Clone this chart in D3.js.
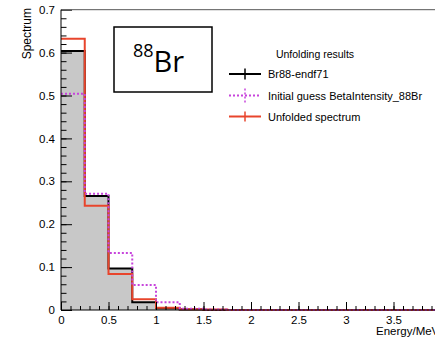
<!DOCTYPE html>
<html>
<head>
<meta charset="utf-8">
<script src="https://cdn.jsdelivr.net/npm/d3@7"></script>
<style>
  body { margin: 0; background: #fff; }
  text { font-family: "Liberation Sans", Arial, sans-serif; }
</style>
</head>
<body>
<script>
// bin low edges (MeV), bin width 0.25
let binEdges = [0, 0.25, 0.5, 0.75, 1, 1.25, 1.5, 1.75, 2, 2.25, 2.5, 2.75, 3, 3.25, 3.5, 3.75];
let binUpper = 4;

let endf71 = [0.604, 0.266, 0.097, 0.018, 0.004, 0.001, 0, 0, 0, 0, 0, 0, 0, 0, 0, 0];
let initialGuess = [0.504, 0.271, 0.133, 0.058, 0.018, 0.003, 0.001, 0, 0, 0, 0, 0, 0, 0, 0, 0];
let unfolded = [0.632, 0.243, 0.084, 0.025, 0.005, 0.002, 0.001, 0, 0, 0, 0, 0, 0, 0, 0, 0];

// the "4" label sits past the right edge of the picture, so it is not listed
let xTicks = [0, 0.5, 1, 1.5, 2, 2.5, 3, 3.5];
let xTickLabels = ["0", "0.5", "1", "1.5", "2", "2.5", "3", "3.5"];
let yTicks = [0, 0.1, 0.2, 0.3, 0.4, 0.5, 0.6, 0.7];
let yTickLabels = ["0", "0.1", "0.2", "0.3", "0.4", "0.5", "0.6", "0.7"];

let legendTitle = "Unfolding results";
let legendLabels = ["Br88-endf71", "Initial guess BetaIntensity_88Br", "Unfolded spectrum"];

let width = 435, height = 339;
let bounds = { left: 61, right: 441, top: 9.7, bottom: 310 };

let svg = d3.select('body').append('svg')
  .attr('width', width)
  .attr('height', height);

let x = d3.scaleLinear().domain([0, 4]).range([bounds.left, bounds.right]);
let y = d3.scaleLinear().domain([0, 0.7]).range([bounds.bottom, bounds.top]);

let toPoints = function(vals) {
  let pts = binEdges.map((e, i) => [e, vals[i]]);
  pts.push([binUpper, vals[vals.length - 1]]);
  return pts;
};

let stepLine = d3.line()
  .x(d => x(d[0]))
  .y(d => y(d[1]))
  .curve(d3.curveStepAfter);

let stepArea = d3.area()
  .x(d => x(d[0]))
  .y0(y(0))
  .y1(d => y(d[1]))
  .curve(d3.curveStepAfter);

// gray filled reference histogram
svg.append('path')
  .datum(toPoints(endf71))
  .attr('d', stepArea)
  .attr('fill', '#c8c8c8');

svg.append('path')
  .datum(toPoints(endf71))
  .attr('d', stepLine)
  .attr('fill', 'none')
  .attr('stroke', '#000')
  .attr('stroke-width', 2);

svg.append('path')
  .datum(toPoints(unfolded))
  .attr('d', stepLine)
  .attr('fill', 'none')
  .attr('stroke', '#e8452c')
  .attr('stroke-width', 2);

svg.append('path')
  .datum(toPoints(initialGuess))
  .attr('d', stepLine)
  .attr('fill', 'none')
  .attr('stroke', '#c744dc')
  .attr('stroke-width', 2)
  .attr('stroke-dasharray', '2,2');

// axes
let yAxis = d3.axisLeft(y)
  .tickValues(yTicks)
  .tickFormat((d, i) => yTickLabels[i])
  .tickSize(-11)
  .tickPadding(6);
let yMinor = d3.axisLeft(y)
  .tickValues(d3.range(0, 36).map(i => i * 0.02).filter(v => v <= 0.7))
  .tickFormat('')
  .tickSize(-5.5);

let xAxis = d3.axisBottom(x)
  .tickValues(xTicks)
  .tickFormat((d, i) => xTickLabels[i])
  .tickSize(-8)
  .tickPadding(5.5);
let xMinor = d3.axisBottom(x)
  .tickValues(d3.range(0, 41).map(i => i * 0.1))
  .tickFormat('')
  .tickSize(-4);

[yMinor, yAxis].forEach(ax => {
  svg.append('g')
    .attr('class', 'axis')
    .attr('transform', 'translate(' + bounds.left + ',0)')
    .call(ax);
});
[xMinor, xAxis].forEach(ax => {
  svg.append('g')
    .attr('class', 'axis')
    .attr('transform', 'translate(0,' + bounds.bottom + ')')
    .call(ax);
});
svg.selectAll('.axis .domain').remove();
svg.selectAll('.axis text')
  .attr('font-size', 11.5)
  .attr('fill', '#000')
  .style('font-family', '"Liberation Sans", Arial, sans-serif');

// frame
svg.append('line')
  .attr('x1', bounds.left).attr('x2', bounds.right)
  .attr('y1', bounds.top).attr('y2', bounds.top)
  .attr('stroke', '#555').attr('stroke-width', 1);
svg.append('line')
  .attr('x1', bounds.left).attr('x2', bounds.left)
  .attr('y1', bounds.top).attr('y2', bounds.bottom)
  .attr('stroke', '#000').attr('stroke-width', 1);
svg.append('line')
  .attr('x1', bounds.left).attr('x2', bounds.right)
  .attr('y1', bounds.bottom).attr('y2', bounds.bottom)
  .attr('stroke', '#000').attr('stroke-width', 1);

// axis titles
svg.append('text')
  .attr('transform', 'translate(31,8) rotate(-90)')
  .attr('text-anchor', 'end')
  .attr('font-size', 12)
  .text('Spectrum');

svg.append('text')
  .attr('x', 376)
  .attr('y', 335)
  .attr('font-size', 11.5)
  .text('Energy/MeV');

// isotope box
svg.append('rect')
  .attr('x', 114).attr('y', 27)
  .attr('width', 98).attr('height', 65)
  .attr('fill', '#fff')
  .attr('stroke', '#000')
  .attr('stroke-width', 1.5);
let iso = svg.append('text')
  .attr('x', 133)
  .attr('y', 72)
  .style('font-family', '"Open Sans", "Noto Sans", sans-serif');
iso.append('tspan')
  .attr('font-size', 18)
  .attr('dy', -15)
  .text('88');
iso.append('tspan')
  .attr('font-size', 29)
  .attr('dy', 15)
  .text('Br');

// legend
svg.append('text')
  .attr('x', 315)
  .attr('y', 58)
  .attr('text-anchor', 'middle')
  .attr('font-size', 10.5)
  .text(legendTitle);

let legendStyles = [
  { color: '#000', dash: null, bar: 5.5 },
  { color: '#c744dc', dash: '2,2', bar: 7 },
  { color: '#e8452c', dash: null, bar: 5 },
];
let legendY = [74, 95.5, 116.5];

legendLabels.forEach((label, i) => {
  let g = svg.append('g').attr('transform', 'translate(0,' + legendY[i] + ')');
  let s = legendStyles[i];
  g.append('line')
    .attr('x1', 229).attr('x2', 261)
    .attr('y1', 0).attr('y2', 0)
    .attr('stroke', s.color)
    .attr('stroke-width', 2)
    .attr('stroke-dasharray', s.dash);
  g.append('line')
    .attr('x1', 245).attr('x2', 245)
    .attr('y1', -s.bar).attr('y2', s.bar)
    .attr('stroke', s.color)
    .attr('stroke-width', 1.5)
    .attr('stroke-dasharray', s.dash);
  g.append('text')
    .attr('x', 268)
    .attr('y', 4)
    .attr('font-size', 11)
    .text(label);
});
</script>
</body>
</html>
